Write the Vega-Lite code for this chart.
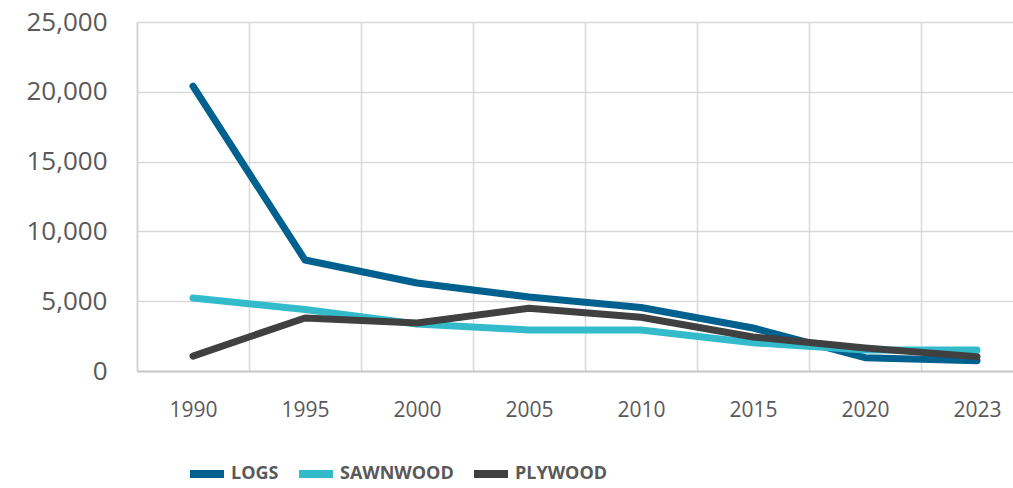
{
  "$schema": "https://vega.github.io/schema/vega-lite/v6.json",
  "autosize": {"type": "none"},
  "width": 876,
  "height": 349,
  "padding": {"left": 137, "top": 22, "right": 0, "bottom": 117},
  "background": "white",
  "config": {"view": {"stroke": null}},
  "data": {
    "values": [
      {"year": "1990", "product": "LOGS", "value": 20400},
      {"year": "1995", "product": "LOGS", "value": 7950},
      {"year": "2000", "product": "LOGS", "value": 6300},
      {"year": "2005", "product": "LOGS", "value": 5300},
      {"year": "2010", "product": "LOGS", "value": 4550},
      {"year": "2015", "product": "LOGS", "value": 3080},
      {"year": "2020", "product": "LOGS", "value": 950},
      {"year": "2023", "product": "LOGS", "value": 740},
      {"year": "1990", "product": "SAWNWOOD", "value": 5230},
      {"year": "1995", "product": "SAWNWOOD", "value": 4400},
      {"year": "2000", "product": "SAWNWOOD", "value": 3370},
      {"year": "2005", "product": "SAWNWOOD", "value": 2940},
      {"year": "2010", "product": "SAWNWOOD", "value": 2940},
      {"year": "2015", "product": "SAWNWOOD", "value": 2030},
      {"year": "2020", "product": "SAWNWOOD", "value": 1500},
      {"year": "2023", "product": "SAWNWOOD", "value": 1500},
      {"year": "1990", "product": "PLYWOOD", "value": 1070},
      {"year": "1995", "product": "PLYWOOD", "value": 3800},
      {"year": "2000", "product": "PLYWOOD", "value": 3440},
      {"year": "2005", "product": "PLYWOOD", "value": 4500},
      {"year": "2010", "product": "PLYWOOD", "value": 3850},
      {"year": "2015", "product": "PLYWOOD", "value": 2440},
      {"year": "2020", "product": "PLYWOOD", "value": 1650},
      {"year": "2023", "product": "PLYWOOD", "value": 1030}
    ]
  },
  "mark": {"type": "line", "strokeWidth": 7, "strokeCap": "round", "strokeJoin": "round"},
  "encoding": {
    "x": {
      "field": "year",
      "type": "ordinal",
      "scale": {"type": "band", "range": [0, 896], "paddingInner": 0, "paddingOuter": 0},
      "axis": {
        "title": null,
        "labelAngle": 0,
        "tickBand": "extent",
        "ticks": false,
        "grid": true,
        "gridColor": "#D9D9D9",
        "gridWidth": 1.5,
        "domainColor": "#C8C8C8",
        "domainWidth": 2,
        "labelFont": "Open Sans",
        "labelFontSize": 21,
        "labelColor": "#595959",
        "labelPadding": 28
      }
    },
    "y": {
      "field": "value",
      "type": "quantitative",
      "scale": {"domain": [0, 25000]},
      "axis": {
        "title": null,
        "values": [0, 5000, 10000, 15000, 20000, 25000],
        "format": ",d",
        "ticks": false,
        "domain": true,
        "domainColor": "#D0D0D0",
        "domainWidth": 1.5,
        "grid": true,
        "gridColor": "#D9D9D9",
        "gridWidth": 1.5,
        "labelFont": "Open Sans",
        "labelFontSize": 26,
        "labelColor": "#595959",
        "labelPadding": 30
      }
    },
    "color": {
      "field": "product",
      "type": "nominal",
      "scale": {"domain": ["LOGS", "SAWNWOOD", "PLYWOOD"], "range": ["#00608E", "#33BBCB", "#404040"]},
      "legend": {
        "title": null,
        "orient": "none",
        "direction": "horizontal",
        "legendX": 49,
        "legendY": 431,
        "symbolType": "stroke",
        "symbolSize": 1156,
        "symbolStrokeWidth": 8,
        "labelFont": "Open Sans",
        "labelFontWeight": "bold",
        "labelFontSize": 18,
        "labelColor": "#595959",
        "labelOffset": 3,
        "columnPadding": 4
      }
    }
  }
}
